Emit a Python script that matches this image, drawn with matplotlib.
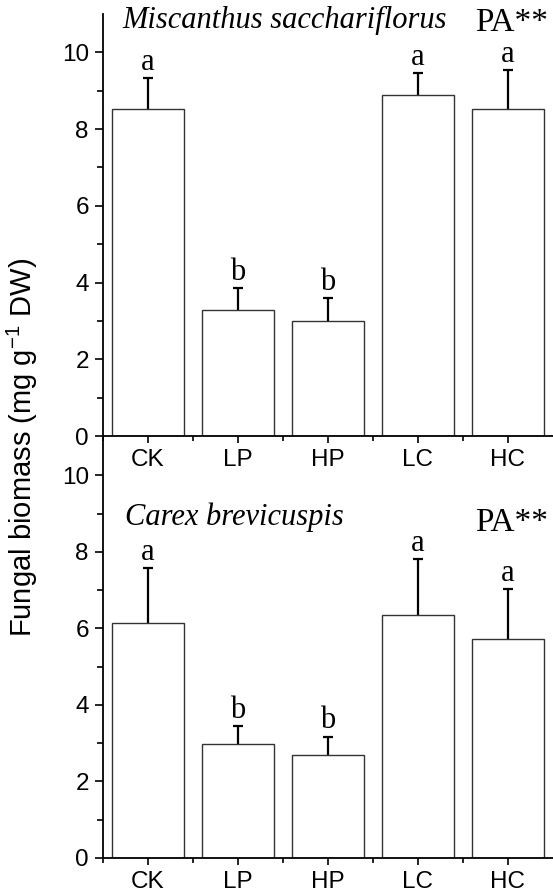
import matplotlib
matplotlib.use("Agg")
import matplotlib.pyplot as plt
from matplotlib.ticker import FixedLocator
import numpy as np

categories = ["CK", "LP", "HP", "LC", "HC"]
top_means = [8.52, 3.28, 2.99, 8.88, 8.52]
top_err = [0.81, 0.58, 0.61, 0.58, 1.01]
top_letters = ["a", "b", "b", "a", "a"]
bottom_means = [6.15, 2.98, 2.69, 6.35, 5.72]
bottom_err = [1.42, 0.47, 0.48, 1.46, 1.31]
bottom_letters = ["a", "b", "b", "a", "a"]
top_title = "Miscanthus sacchariflorus"
bottom_title = "Carex brevicuspis"
sig_label = "PA**"
ylabel = "Fungal biomass (mg g$^{-1}$ DW)"

plt.rcParams["font.family"] = ["Liberation Sans", "DejaVu Sans"]
plt.rcParams["mathtext.fontset"] = "custom"
plt.rcParams["mathtext.rm"] = "Liberation Sans"

W, H = 553, 894
fig = plt.figure(figsize=(W / 100, H / 100), dpi=100)

def px_rect(x0, y0_top, x1, y1_top):
    return [x0 / W, 1 - y1_top / H, (x1 - x0) / W, (y1_top - y0_top) / H]

ax1 = fig.add_axes(px_rect(102.7, 14, 553, 436))
ax2 = fig.add_axes(px_rect(102.7, 437, 553, 858))

serif = ["Liberation Serif", "DejaVu Serif"]
x = np.arange(len(categories))

def draw(ax, means, errs, letters, title, tpos, ppos):
    ax.errorbar(x, means, yerr=errs, fmt="none", ecolor="black",
                elinewidth=1.6, capsize=3.6, capthick=1.6, zorder=1)
    ax.bar(x, means, width=0.8, color="white", edgecolor="#333333", linewidth=1.0, zorder=2)
    for xi, m, e, l in zip(x, means, errs, letters):
        ax.annotate(l, (xi, m + e), xytext=(0, 6), textcoords="offset points",
                    ha="center", va="baseline", fontsize=22, family=serif)
    ax.set_xlim(-0.5, 4.5)
    ax.set_ylim(0, 11)
    ax.set_xticks(x)
    ax.set_xticklabels(categories)
    ax.xaxis.set_minor_locator(FixedLocator([-0.5, 0.5, 1.5, 2.5, 3.5]))
    ax.set_yticks([0, 2, 4, 6, 8, 10])
    ax.yaxis.set_minor_locator(FixedLocator([1, 3, 5, 7, 9]))
    ax.tick_params(axis="y", which="major", direction="out", length=6, width=1.2, labelsize=17.5, pad=4)
    ax.tick_params(axis="y", which="minor", direction="out", length=4, width=1.2)
    ax.tick_params(axis="x", which="major", direction="out", length=5, width=1.2, labelsize=17.5, pad=4)
    ax.tick_params(axis="x", which="minor", direction="out", length=3.5, width=1.2)
    for s in ["top", "right"]:
        ax.spines[s].set_visible(False)
    for s in ["left", "bottom"]:
        ax.spines[s].set_linewidth(1.3)
    ax.patch.set_alpha(0)
    ax.text(tpos[0], tpos[1], title, transform=ax.transAxes, fontsize=22, style="italic",
            family=serif, ha="left", va="baseline")
    ax.text(ppos[0], ppos[1], sig_label, transform=ax.transAxes, fontsize=24,
            family=serif, ha="right", va="baseline")

draw(ax1, top_means, top_err, top_letters, top_title, (0.043, 0.966), (0.989, 0.959))
draw(ax2, bottom_means, bottom_err, bottom_letters, bottom_title, (0.049, 0.791), (0.989, 0.776))

fig.text(22 / W, 0.5, ylabel, rotation=90, ha="center", va="center", fontsize=21)

fig.savefig("out.png", dpi=100)
